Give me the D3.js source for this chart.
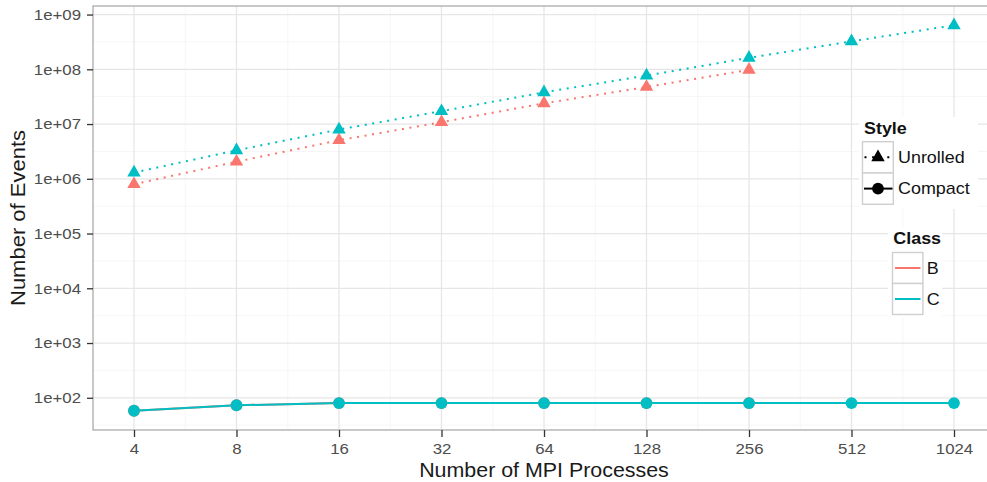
<!DOCTYPE html>
<html><head><meta charset="utf-8">
<script src="https://cdn.jsdelivr.net/npm/d3@7"></script>
<style>body{margin:0;background:#fff} text{font-family:"Liberation Sans",Arial,Helvetica,sans-serif}</style>
</head><body><svg id="c" width="987" height="482"></svg>
<script>
// ---- data ----
const procs = [4, 8, 16, 32, 64, 128, 256, 512, 1024];
const unrolledB = [7.96e5, 2.05e6, 5.06e6, 1.08e7, 2.39e7, 4.75e7, 9.77e7];
const unrolledC = [1.30e6, 3.31e6, 7.94e6, 1.72e7, 3.80e7, 7.67e7, 1.62e8, 3.24e8, 6.37e8];
const compactB = [58, 73, 80, 80, 80, 80, 80];
const compactC = [58, 73, 80, 80, 80, 80, 80, 80, 80];
const yTicks = [1e2, 1e3, 1e4, 1e5, 1e6, 1e7, 1e8, 1e9];
const classes = ["B", "C"];
const styleNames = ["Unrolled", "Compact"];
const classColors = ["#F8766D", "#00BFC4"];

const series = [
  {cls: "B", style: "Unrolled", vals: unrolledB},
  {cls: "C", style: "Unrolled", vals: unrolledC},
  {cls: "B", style: "Compact", vals: compactB},
  {cls: "C", style: "Compact", vals: compactC}
];
const color = d3.scaleOrdinal().domain(classes).range(classColors);

// ---- layout ----
const W = 987, H = 482;
const P = {left: 93, right: 995, top: 6, bottom: 430};
const SX = 1.12; // horizontal text stretch to mimic source rendering

const svg = d3.select("#c");

// x: log2 with 5% expansion
const lx = [Math.log2(d3.min(procs)), Math.log2(d3.max(procs))];
const px = (lx[1] - lx[0]) * 0.05;
const x = d3.scaleLog().base(2).domain([2 ** (lx[0] - px), 2 ** (lx[1] + px)]).range([P.left, P.right]);

// y: log10 with 5% expansion
const allVals = series.flatMap(s => s.vals);
const ly = [Math.log10(d3.min(allVals)), Math.log10(d3.max(allVals))];
const py = (ly[1] - ly[0]) * 0.05;
const y = d3.scaleLog().domain([10 ** (ly[0] - py), 10 ** (ly[1] + py)]).range([P.bottom, P.top]);

svg.append("defs").append("clipPath").attr("id", "clip")
  .append("rect").attr("x", P.left).attr("y", P.top).attr("width", P.right - P.left).attr("height", P.bottom - P.top);

const panel = svg.append("g").attr("clip-path", "url(#clip)");
panel.append("rect").attr("x", P.left).attr("y", P.top).attr("width", P.right - P.left).attr("height", P.bottom - P.top).attr("fill", "#fff");

// minor grid
const yd = y.domain().map(Math.log10);
const yMinor = d3.range(Math.floor(yd[0]), Math.ceil(yd[1])).map(k => 10 ** (k + 0.5)).filter(v => v >= y.domain()[0] && v <= y.domain()[1]);
const xd = x.domain().map(Math.log2);
const xMinor = procs.slice(0, -1).map((p, i) => Math.sqrt(p * procs[i + 1]));
panel.selectAll(".ymin").data(yMinor).join("line")
  .attr("x1", P.left).attr("x2", P.right).attr("y1", d => y(d)).attr("y2", d => y(d))
  .attr("stroke", "#F2F2F2").attr("stroke-width", 0.7);
panel.selectAll(".xmin").data(xMinor).join("line")
  .attr("y1", P.top).attr("y2", P.bottom).attr("x1", d => x(d)).attr("x2", d => x(d))
  .attr("stroke", "#F2F2F2").attr("stroke-width", 0.7);
// major grid
panel.selectAll(".ymaj").data(yTicks).join("line")
  .attr("x1", P.left).attr("x2", P.right).attr("y1", d => y(d)).attr("y2", d => y(d))
  .attr("stroke", "#E6E6E6").attr("stroke-width", 1.3);
panel.selectAll(".xmaj").data(procs).join("line")
  .attr("y1", P.top).attr("y2", P.bottom).attr("x1", d => x(d)).attr("x2", d => x(d))
  .attr("stroke", "#E6E6E6").attr("stroke-width", 1.3);

// lines
const line = d3.line().x((d, i) => x(procs[i])).y(d => y(d));
panel.selectAll(".ln").data(series).join("path")
  .attr("d", s => line(s.vals))
  .attr("fill", "none")
  .attr("stroke", s => color(s.cls))
  .attr("stroke-width", 2)
  .attr("stroke-dasharray", s => s.style === "Unrolled" ? "2,5.6" : null);

// points
const tri = d3.symbol().type(d3.symbolTriangle).size(78)();
series.forEach(s => {
  const g = panel.append("g");
  s.vals.forEach((v, i) => {
    if (s.style === "Unrolled") {
      g.append("path").attr("d", tri).attr("transform", `translate(${x(procs[i])},${y(v)})`).attr("fill", color(s.cls));
    } else {
      g.append("circle").attr("cx", x(procs[i])).attr("cy", y(v)).attr("r", 5.9).attr("fill", color(s.cls));
    }
  });
});

// legends (inside panel)
function legendBg(x0, y0, w, h) {
  svg.append("rect").attr("x", x0).attr("y", y0).attr("width", w).attr("height", h).attr("fill", "#fff");
}
function stext(g, txt, tx, ty, size, weight, anchor) {
  return g.append("text").text(txt)
    .attr("transform", `translate(${tx},${ty}) scale(${SX},1)`)
    .attr("font-size", size).attr("font-weight", weight || "normal")
    .attr("text-anchor", anchor || "start").attr("fill", "#111");
}
legendBg(859, 117, 119, 92);
legendBg(888, 227, 54, 91);
const lg = svg.append("g");
stext(lg, "Style", 864, 134, 16, "bold");
styleNames.forEach((nm, i) => {
  const ky = 141.7 + i * 31.3;
  lg.append("rect").attr("x", 862.5).attr("y", ky).attr("width", 30.8).attr("height", 31.3)
    .attr("fill", "#fff").attr("stroke", "#CFCFCF").attr("stroke-width", 1.4);
  const cy = ky + 15.6, cx = 878;
  lg.append("line").attr("x1", 864).attr("x2", 892.5).attr("y1", cy).attr("y2", cy)
    .attr("stroke", "#000").attr("stroke-width", 2)
    .attr("stroke-dasharray", nm === "Unrolled" ? "2,5.6" : null)
    .attr("stroke-dashoffset", nm === "Unrolled" ? -0.5 : null);
  if (nm === "Unrolled") lg.append("path").attr("d", tri).attr("transform", `translate(${cx},${cy})`).attr("fill", "#000");
  else lg.append("circle").attr("cx", cx).attr("cy", cy).attr("r", 5.9).attr("fill", "#000");
  stext(lg, nm, 898, cy + 5.8, 16);
});
stext(lg, "Class", 893.3, 244, 16, "bold");
classes.forEach((c, i) => {
  const ky = 252.5 + i * 31;
  lg.append("rect").attr("x", 892.5).attr("y", ky).attr("width", 30.4).attr("height", 31)
    .attr("fill", "#fff").attr("stroke", "#CFCFCF").attr("stroke-width", 1.4);
  const cy = ky + 15.5;
  lg.append("line").attr("x1", 895).attr("x2", 920.5).attr("y1", cy).attr("y2", cy)
    .attr("stroke", color(c)).attr("stroke-width", 2);
  stext(lg, c, 926.7, cy + 5.8, 16);
});

// panel border
svg.append("rect").attr("x", P.left).attr("y", P.top).attr("width", P.right - P.left).attr("height", P.bottom - P.top)
  .attr("fill", "none").attr("stroke", "#ABABAB").attr("stroke-width", 1.3);

// axes
const fmt = v => "1e+" + String(Math.round(Math.log10(v))).padStart(2, "0");
const yAxis = svg.append("g").attr("transform", `translate(${P.left},0)`)
  .call(d3.axisLeft(y).tickValues(yTicks).tickFormat(fmt).tickSize(6).tickPadding(6));
const xAxis = svg.append("g").attr("transform", `translate(0,${P.bottom})`)
  .call(d3.axisBottom(x).tickValues(procs).tickFormat(d3.format("d")).tickSize(7).tickPadding(6));
[yAxis, xAxis].forEach(a => {
  a.select(".domain").remove();
  a.selectAll(".tick line").attr("stroke", "#333").attr("stroke-width", 1.3);
  a.selectAll(".tick text").attr("font-size", 15).attr("fill", "#4D4D4D")
    .attr("font-family", '"Liberation Sans",Arial,sans-serif');
});
yAxis.selectAll(".tick text").attr("x", -12 / SX).attr("transform", `scale(${SX},1)`);
xAxis.selectAll(".tick text").attr("transform", `scale(${SX},1)`)
  .each(function() { const t = d3.select(this); });
// keep x labels centered under ticks: wrap each text position
xAxis.selectAll(".tick").each(function() {
  d3.select(this).select("text").attr("x", 0);
});

// axis titles
svg.append("text").text("Number of MPI Processes")
  .attr("transform", `translate(${(P.left + P.right) / 2},476.5) scale(1.07,1)`)
  .attr("text-anchor", "middle").attr("font-size", 20).attr("fill", "#1a1a1a");
svg.append("text").text("Number of Events")
  .attr("transform", `translate(24.5,${(P.top + P.bottom) / 2}) rotate(-90) scale(1.1,1)`)
  .attr("text-anchor", "middle").attr("font-size", 20).attr("fill", "#1a1a1a");
</script></body></html>
